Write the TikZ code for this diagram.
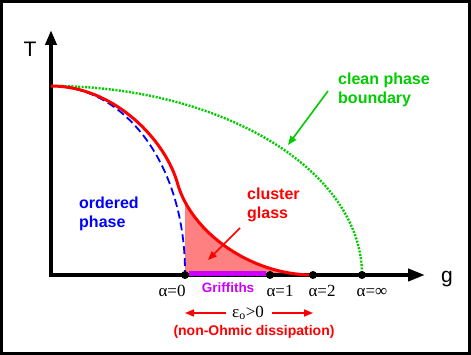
\documentclass[tikz,border=0pt]{standalone}
\usepackage{fontspec}
\setmainfont{Liberation Serif}
\setsansfont{Liberation Sans}
\usetikzlibrary{arrows.meta,positioning}
\usepackage{xcolor}
\definecolor{clean}{HTML}{00CC00}
\definecolor{order}{HTML}{0000FF}
\definecolor{glass}{HTML}{FF0000}
\definecolor{griff}{HTML}{CC00FF}
\tikzset{
  >={Triangle[length=9pt,width=7pt]},
  axis/.style={line width=4pt,{Triangle[length=15pt,width=11pt]}-{Triangle[length=17pt,width=12pt]}},
  cleanline/.style={draw=clean,line width=2.4pt,dash pattern=on 2pt off 1.4pt},
  orderline/.style={draw=order,line width=1.8pt,dash pattern=on 8pt off 4pt},
  glassline/.style={draw=glass,line width=3pt},
  glassfill/.style={fill=glass!50},
  griffline/.style={draw=griff,line width=5pt},
  dot/.style={circle,fill=black,inner sep=0pt,minimum size=8pt},
  alab/.style={font=\fontsize{17}{17}\selectfont,inner sep=0pt,anchor=base},
  bigtag/.style={font=\sffamily\bfseries\fontsize{16}{18.5}\selectfont,align=left,inner sep=0pt,anchor=base west},
  smalltag/.style={font=\sffamily\bfseries\fontsize{14}{16}\selectfont,inner sep=0pt,anchor=base},
  axlab/.style={font=\sffamily\fontsize{21}{21}\selectfont,inner sep=0pt,anchor=base},
  pointer/.style={->,line width=1.6pt},
}

\begin{document}
\begin{tikzpicture}[x=1pt,y=-1pt]
\useasboundingbox (0,0) rectangle (471,355);
\draw[line width=3pt] (1.5,1.5) rectangle (469.5,353.5);

% cluster glass region
\begin{scope}
\clip (185,0) rectangle (471,275);
\fill[glassfill] (178,185) .. controls (192,232) and (250,275) .. (313,275) -- (178,275) -- cycle;
\end{scope}

% axes
\draw[axis] (51,30) -- (51,275) -- (425,275);
\node[axlab] (T) at (30,57) {T};
\node[axlab] (g) at (447,283) {g};

% phase boundaries
\draw[cleanline] (51,86) arc[start angle=90,end angle=0,x radius=311pt,y radius=189pt];
\draw[orderline] (51,86) .. controls (125,86) and (186,165) .. (185,275);
\draw[glassline] (51,86) .. controls (114,86) and (166,140) .. (178,185)
  .. controls (192,232) and (250,275) .. (313,275);

% points on the g axis
\node[dot] (a0) at (185,275) {};
\node[dot] (a1) at (270,275) {};
\node[dot] (a2) at (313,275) {};
\node[dot] (ainf) at (362,275) {};
\draw[griffline] ([yshift=1pt]a0.east) -- ([yshift=1pt]a1.west);

\node[alab] (l0) at (172,297) {α=0};
\node[alab] (l1) at (280,297) {α=1};
\node[alab] (l2) at (322,297) {α=2};
\node[alab] (linf) at (372,297) {α=∞};
\node[smalltag,text=griff,font=\sffamily\bfseries\fontsize{13.5}{15}\selectfont] (griffiths) at (228,292) {Griffiths};

% dissipation
\node[alab] (eps) at (248,317) {ε\textsubscript{o}>0};
\coordinate (epsl0) at (226,313);
\coordinate (epsl1) at (185,313);
\coordinate (epsr0) at (272,313);
\coordinate (epsr1) at (313,313);
\draw[pointer,draw=glass] (epsl0) -- (epsl1);
\draw[pointer,draw=glass] (epsr0) -- (epsr1);
\node[smalltag,text=glass] (diss) at (254,335) {(non-Ohmic dissipation)};

% phase labels
\node[bigtag,text=order] (ordered) at (79,227.5) {ordered\\phase};
\node[bigtag,text=glass] (cluster) at (247,218.5) {cluster\\glass};
\node[bigtag,text=clean] (cleanlab) at (338,103.5) {clean phase\\boundary};
\coordinate (gtail) at (240,228);
\coordinate (ghead) at (208,260);
\draw[pointer,draw=glass] (gtail) -- (ghead);
\coordinate (ctail) at (328,91);
\coordinate (chead) at (288,145);
\draw[pointer,draw=clean] (ctail) -- (chead);

\end{tikzpicture}
\end{document}
